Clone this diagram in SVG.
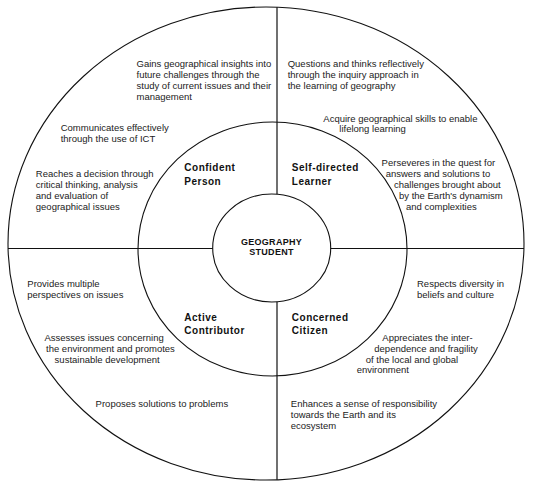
<svg xmlns="http://www.w3.org/2000/svg" width="533" height="488" viewBox="0 0 533 488">
<style>
.ring{fill:none;stroke:#111;stroke-width:1.1}
.ln{stroke:#111;stroke-width:1.2;fill:none}
.t{font-family:"Liberation Sans",Arial,sans-serif;font-size:9.5px;fill:#222}
.h{font-family:"Liberation Sans",Arial,sans-serif;font-size:10px;font-weight:bold;letter-spacing:0.5px;fill:#111}
.c{font-family:"Liberation Sans",Arial,sans-serif;font-size:9px;font-weight:bold;letter-spacing:0.3px;fill:#111;text-anchor:middle}
</style>
<rect width="533" height="488" fill="#fff"/>
<g id="outer-ring"><ellipse class="ring" cx="266" cy="243.5" rx="258" ry="236.5"/></g>
<g id="middle-ring"><ellipse class="ring" cx="272.5" cy="249" rx="134.5" ry="127"/></g>
<g id="connectors">
<line class="ln" x1="8" y1="248.5" x2="212.8" y2="248.5"/>
<line class="ln" x1="330.7" y1="248.5" x2="524" y2="248.5"/>
<line class="ln" x1="277" y1="7.2" x2="277" y2="194.2"/>
<line class="ln" x1="277" y1="301.8" x2="277" y2="479.8"/>
</g>
<g id="geography-student">
<ellipse class="ring" cx="271.7" cy="248" rx="59" ry="54"/>
<text class="c" x="271.5" y="244.5">GEOGRAPHY</text>
<text class="c" x="271.5" y="254.8">STUDENT</text>
</g>
<g id="confident-person">
<text class="h" x="184.3" y="171.3">Confident</text>
<text class="h" x="184.3" y="185.3">Person</text>
<text class="t" x="136.5" y="66.8">Gains geographical insights into</text>
<text class="t" x="136.5" y="77.7">future challenges through the</text>
<text class="t" x="136.5" y="88.6">study of current issues and their</text>
<text class="t" x="136.5" y="100">management</text>
<text class="t" x="60.7" y="130.8">Communicates effectively</text>
<text class="t" x="60.7" y="142.1">through the use of ICT</text>
<text class="t" x="35.8" y="176.9">Reaches a decision through</text>
<text class="t" x="35.8" y="187.8">critical thinking, analysis</text>
<text class="t" x="35.8" y="199.1">and evaluation of</text>
<text class="t" x="35.8" y="210">geographical issues</text>
</g>
<g id="self-directed-learner">
<text class="h" x="291.8" y="171.3">Self-directed</text>
<text class="h" x="291.8" y="185.3">Learner</text>
<text class="t" x="287.7" y="66.8">Questions and thinks reflectively</text>
<text class="t" x="287.7" y="77.7">through the inquiry approach in</text>
<text class="t" x="287.7" y="88.6">the learning of geography</text>
<text class="t" x="323.3" y="122.3">Acquire geographical skills to enable</text>
<text class="t" x="339.3" y="131.8">lifelong learning</text>
<text class="t" x="381.6" y="166">Perseveres in the quest for</text>
<text class="t" x="385.7" y="176.9">answers and solutions to</text>
<text class="t" x="394" y="187.8">challenges brought about</text>
<text class="t" x="399" y="199.1">by the Earth's dynamism</text>
<text class="t" x="406" y="210">and complexities</text>
</g>
<g id="active-contributor">
<text class="h" x="184.3" y="321">Active</text>
<text class="h" x="184.3" y="334">Contributor</text>
<text class="t" x="27.3" y="286.6">Provides multiple</text>
<text class="t" x="27.3" y="297.9">perspectives on issues</text>
<text class="t" x="44.4" y="341">Assesses issues concerning</text>
<text class="t" x="46" y="351.6">the environment and promotes</text>
<text class="t" x="54.6" y="362.6">sustainable development</text>
<text class="t" x="95.6" y="407">Proposes solutions to problems</text>
</g>
<g id="concerned-citizen">
<text class="h" x="291.8" y="321">Concerned</text>
<text class="h" x="291.8" y="334">Citizen</text>
<text class="t" x="417" y="286.6">Respects diversity in</text>
<text class="t" x="417" y="297.9">beliefs and culture</text>
<text class="t" x="382.3" y="341">Appreciates the inter-</text>
<text class="t" x="374.3" y="351.6">dependence and fragility</text>
<text class="t" x="365.7" y="362.6">of the local and global</text>
<text class="t" x="356.7" y="372.8">environment</text>
<text class="t" x="290.8" y="407">Enhances a sense of responsibility</text>
<text class="t" x="290.8" y="418.3">towards the Earth and its</text>
<text class="t" x="290.8" y="429.3">ecosystem</text>
</g>
</svg>
